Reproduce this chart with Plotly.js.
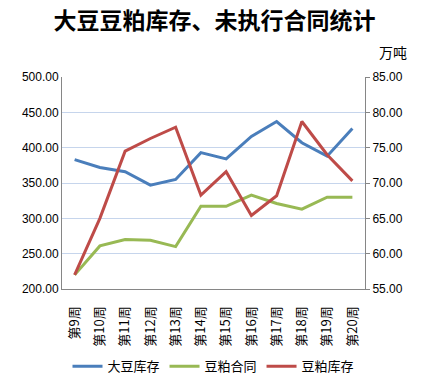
<!DOCTYPE html>
<html><head><meta charset="utf-8">
<script src="https://cdn.plot.ly/plotly-3.0.1.min.js"></script>
<style>html,body{margin:0;padding:0;background:#fff;}#chart{width:429px;height:385px;}</style>
</head><body><div id="chart"></div>
<script>
const weeks = ["第9周","第10周","第11周","第12周","第13周","第14周","第15周","第16周","第17周","第18周","第19周","第20周"];
const soybeanStock = [383, 372, 366, 347, 355, 393, 384, 416, 437, 407, 388, 427];
const mealContract = [220, 261, 270, 269, 260, 317, 317, 333, 321, 313, 330, 330];
const mealStock = [57.0, 65.0, 74.5, 76.3, 77.9, 68.3, 71.6, 65.4, 68.2, 78.7, 74.0, 70.3];
const leftTicks = [200, 250, 300, 350, 400, 450, 500];
const rightTicks = [55, 60, 65, 70, 75, 80, 85];

const tickFont = {family: "Liberation Sans, Arial, sans-serif", size: 12, color: "#000"};
const traces = [
  {x: weeks, y: soybeanStock, name: "大豆库存", type: "scatter", mode: "lines",
   line: {color: "#4a7ebb", width: 3}, yaxis: "y"},
  {x: weeks, y: mealContract, name: "豆粕合同", type: "scatter", mode: "lines",
   line: {color: "#98b954", width: 3}, yaxis: "y"},
  {x: weeks, y: mealStock, name: "豆粕库存", type: "scatter", mode: "lines",
   line: {color: "#be4b48", width: 3}, yaxis: "y2"}
];
const layout = {
  width: 429, height: 385,
  margin: {l: 62, r: 64, t: 77, b: 96, autoexpand: false},
  paper_bgcolor: "#fff", plot_bgcolor: "#fff",
  title: {text: "大豆豆粕库存、未执行合同统计", x: 0.5, xanchor: "center", y: 0.945, yanchor: "middle",
          font: {family: "Noto Sans CJK SC", size: 23, color: "#000", weight: "bold"}},
  showlegend: true,
  legend: {orientation: "h", x: 0.5, xanchor: "center", y: -0.365, yanchor: "middle",
           font: {family: "Noto Sans CJK SC", size: 13, color: "#000"}, itemwidth: 30, tracegroupgap: 0},
  xaxis: {type: "category", tickangle: -90, tickfont: {family: "Noto Sans CJK SC", size: 13, color: "#000"},
          ticklabelstandoff: 11, automargin: false,
          showgrid: false, showline: true, linecolor: "#868686", linewidth: 1, ticks: "", zeroline: false,
          range: [-0.5, weeks.length - 0.5]},
  yaxis: {range: [200, 500], tickvals: leftTicks, ticktext: leftTicks.map(v => v.toFixed(2)),
          tickfont: tickFont, showgrid: true, gridcolor: "#c6d5ec", gridwidth: 1, automargin: false,
          showline: true, linecolor: "#868686", linewidth: 1, ticks: "", zeroline: false},
  yaxis2: {range: [55, 85], tickvals: rightTicks, ticktext: rightTicks.map(v => v.toFixed(2)),
           overlaying: "y", side: "right", tickfont: tickFont, showgrid: false, automargin: false,
           showline: true, linecolor: "#868686", linewidth: 1, ticks: "outside", ticklen: 4,
           tickcolor: "#868686", zeroline: false},
  annotations: [
    {text: "万吨", xref: "paper", yref: "paper", x: 1.04, y: 1.12, xanchor: "left", yanchor: "middle",
     showarrow: false, font: {family: "Noto Sans CJK SC", size: 14, color: "#000"}}
  ]
};
Plotly.newPlot("chart", traces, layout, {displayModeBar: false, staticPlot: true});
</script></body></html>
